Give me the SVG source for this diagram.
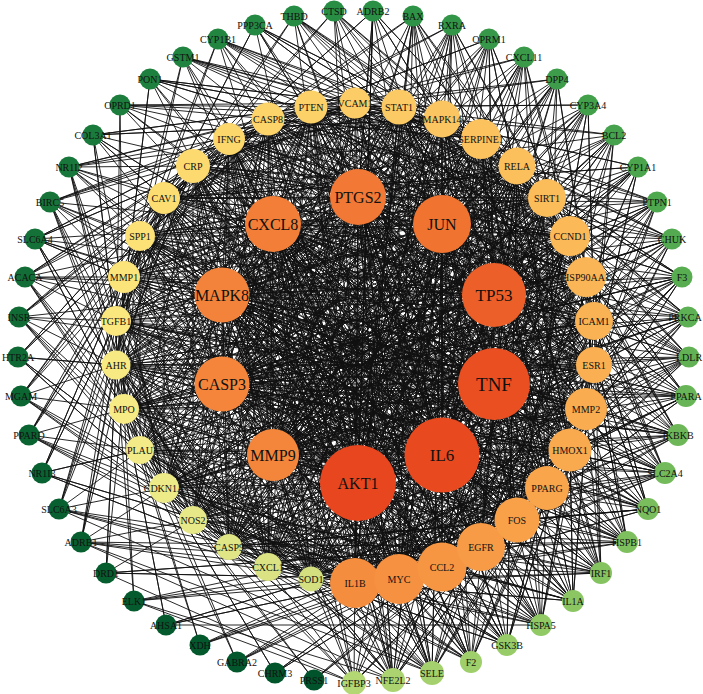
<svg xmlns="http://www.w3.org/2000/svg" width="703" height="694" viewBox="0 0 703 694">
<style>
.e path{fill:none;stroke:#111;stroke-width:0.9;stroke-linejoin:round}
.n text{font-family:"Liberation Serif","Times New Roman",serif;font-size:10px;text-anchor:middle;dominant-baseline:central;fill:#111}
.h text{font-size:16px}
</style>
<rect width="703" height="694" fill="#fff"/>
<g id="edges" class="e">
<path d="M355 103L358 197 399 107 442 224 442 119 494 295 481 139 494 384 517 166 442 455 547 198 358 483 570 236 273 455 586 277 222 384 594 321 222 295 594 365 273 224 586 409 358 197 570 450 442 224 547 488 494 295 517 520 494 384 481 547 442 455 442 567 358 483 399 579 273 455 355 583 222 384 311 579 222 295 268 567 273 224 229 547 358 197 193 520 442 224 164 488 494 295 140 450 494 384 124 409 442 455 116 365 358 483 116 321 273 455 124 277 222 384 140 236 222 295 164 198 273 224 193 166 358 197 229 139 442 224 268 119 494 295 311 107 494 384"/>
<path d="M355 103L494 295 399 107 494 384 442 119 442 455 481 139 358 483 517 166 273 455 547 198 222 384 570 236 222 295 586 277 273 224 594 321 358 197 594 365 442 224 586 409 494 295 570 450 494 384 547 488 442 455 517 520 358 483 481 547 273 455 442 567 222 384 399 579 222 295 355 583 273 224 311 579 358 197 268 567 442 224 229 547 494 295 193 520 494 384 164 488 442 455 140 450 358 483 124 409 273 455 116 365 222 384 116 321 222 295 124 277 273 224 140 236 358 197 164 198 442 224 193 166 494 295 229 139 494 384 268 119 442 455 311 107 358 483"/>
<path d="M355 103L442 455 399 107 358 483 442 119 273 455 481 139 222 384 517 166 222 295 547 198 273 224 570 236 358 197 586 277 442 224 594 321 494 295 594 365 494 384 586 409 442 455 570 450 358 483 547 488 273 455 517 520 222 384 481 547 222 295 442 567 273 224 399 579 358 197 355 583 442 224 311 579 494 295 268 567 494 384 229 547 442 455 193 520 358 483 164 488 273 455 140 450 222 384 124 409 222 295 116 365 273 224 116 321 358 197 124 277 442 224 140 236 494 295 164 198 494 384 193 166 442 455 229 139 358 483 268 119 273 455 311 107 222 384"/>
<path d="M355 103L273 455 399 107 222 384 442 119 222 295 481 139 273 224 517 166 358 197 547 198 442 224 570 236 494 295 586 277 494 384 594 321 442 455 594 365 358 483 586 409 273 455 570 450 222 384 547 488 222 295 517 520 273 224 481 547 358 197 442 567 442 224 399 579 494 295 355 583 494 384 311 579 442 455 268 567 358 483 229 547 273 455 193 520 222 384 164 488 222 295 140 450 273 224 124 409 358 197 116 365 442 224 116 321 494 295 124 277 494 384 140 236 442 455 164 198 358 483 193 166 273 455 229 139 222 384 268 119 222 295 311 107 273 224"/>
<path d="M355 103L222 295 399 107 273 224 442 119 358 197 481 139 442 224 517 166 494 295 547 198 494 384 570 236 442 455 586 277 358 483 594 321 273 455 594 365 222 384 586 409 222 295 570 450 273 224 547 488 358 197 517 520 442 224 481 547 494 295 442 567 494 384 399 579 442 455 355 583 358 483 311 579 273 455 268 567 222 384 229 547 222 295 193 520 273 224 164 488 358 197 140 450 442 224 124 409 494 295 116 365 494 384 116 321 442 455 124 277 358 483 140 236 273 455 164 198 222 384 193 166 222 295 229 139 273 224 268 119 358 197 311 107 442 224"/>
<path d="M358 197L442 224 494 295 494 384 442 455 358 483 273 455 222 384 222 295 273 224 358 197 494 295 442 455 273 455 222 295 358 197 494 384 273 455 273 224 494 295 358 483 222 295 442 224 442 455 222 384 358 197 442 455 222 295 494 295 273 455 358 197 358 483M442 224L494 384 358 483 222 384 273 224 442 224 358 483 273 224 494 384 222 384 442 224 273 455M494 295L222 384M494 384L222 295M442 455L273 224"/>
<path d="M355 103L481 139 570 236 594 365 547 488 442 567 311 579 193 520 124 409 124 277 193 166 311 107 442 119 547 198 594 321 570 450 481 547 355 583 229 547 140 450 116 321 164 198 268 119 399 107 517 166 586 277 586 409 517 520 399 579 268 567 164 488 116 365 140 236 229 139Z"/>
<path d="M355 103L547 198 586 409 442 567 229 547 116 365 193 166 399 107 570 236 570 450 399 579 193 520 116 321 229 139 442 119 586 277 547 488 355 583 164 488 124 277 268 119 481 139 594 321 517 520 311 579 140 450 140 236 311 107 517 166 594 365 481 547 268 567 124 409 164 198Z"/>
<path d="M355 103L586 277 481 547 193 520 140 236 399 107 594 321 442 567 164 488 164 198 442 119 594 365 399 579 140 450 193 166 481 139 586 409 355 583 124 409 229 139 517 166 570 450 311 579 116 365 268 119 547 198 547 488 268 567 116 321 311 107 570 236 517 520 229 547 124 277Z"/>
<path d="M355 103L594 365 311 579 124 277 442 119 570 450 229 547 164 198 517 166 517 520 164 488 229 139 570 236 442 567 124 409 311 107 594 321 355 583 116 321 399 107 586 409 268 567 140 236 481 139 547 488 193 520 193 166 547 198 481 547 140 450 268 119 586 277 399 579 116 365Z"/>
<path d="M355 103L570 450 164 488 311 107 586 409 193 520 268 119 594 365 229 547 229 139 594 321 268 567 193 166 586 277 311 579 164 198 570 236 355 583 140 236 547 198 399 579 124 277 517 166 442 567 116 321 481 139 481 547 116 365 442 119 517 520 124 409 399 107 547 488 140 450Z"/>
<path d="M355 103L517 520 116 321 547 198 311 579 229 139 586 409 140 450 442 119 442 567 140 236 586 277 229 547 311 107 547 488 116 365 517 166 355 583 193 166 594 365 164 488 399 107 481 547 124 277 570 236 268 567 268 119 570 450 124 409 481 139 399 579 164 198 594 321 193 520Z"/>
<path d="M355 103L442 567 193 166 570 450 116 321 586 277 164 488 481 139 311 579 311 107 481 547 164 198 586 409 116 365 570 236 193 520 442 119 355 583 268 119 517 520 140 236 594 365 124 409 547 198 229 547 399 107 399 579 229 139 547 488 124 277 594 321 140 450 517 166 268 567Z"/>
<path d="M355 103L355 583 399 107 311 579 442 119 268 567 481 139 229 547 517 166 193 520 547 198 164 488 570 236 140 450 586 277 124 409 594 321 116 365 594 365 116 321 586 409 124 277 570 450 140 236 547 488 164 198 517 520 193 166 481 547 229 139 442 567 268 119 399 579 311 107"/>
<path d="M355 103L586 409 229 547 193 166 570 236 399 579 116 321 442 119 547 488 164 488 268 119 594 321 311 579 140 236 517 166 481 547 124 409ZM399 107L570 450 193 520 229 139 586 277 355 583 124 277 481 139 517 520 140 450 311 107 594 365 268 567 164 198 547 198 442 567 116 365Z"/>
<path d="M355 103L547 488 124 409 442 119 481 547 116 321 517 166 399 579 140 236 570 236 311 579 193 166 594 321 229 547 268 119 586 409 164 488ZM399 107L517 520 116 365 481 139 442 567 124 277 547 198 355 583 164 198 586 277 268 567 229 139 594 365 193 520 311 107 570 450 140 450Z"/>
<path d="M355 103L481 547 140 236 594 321 164 488 442 119 399 579 193 166 586 409 124 409 517 166 311 579 268 119 547 488 116 321 570 236 229 547ZM399 107L442 567 164 198 594 365 140 450 481 139 355 583 229 139 570 450 116 365 547 198 268 567 311 107 517 520 124 277 586 277 193 520Z"/>
<path d="M355 103L399 579 268 119 481 547 193 166 547 488 140 236 586 409 116 321 594 321 124 409 570 236 164 488 517 166 229 547 442 119 311 579ZM399 107L355 583 311 107 442 567 229 139 517 520 164 198 570 450 124 277 594 365 116 365 586 277 140 450 547 198 193 520 481 139 268 567Z"/>
<path d="M373 11L517 166 413 16 547 198 452 25 570 236 489 39 570 236 524 57 586 277 557 79 594 321 588 105 594 321 614 135 594 365 638 167 594 365 657 202 586 409 672 239 570 450 682 277 570 450 688 317 547 488 689 357 517 520 686 396 517 520 678 435 481 547 665 473 442 567 648 509 442 567 627 542 399 579 601 573 355 583 573 601 355 583 541 625 311 579 507 645 311 579 471 662 268 567 432 673 229 547 393 680 229 547 354 683 193 520 314 680 164 488 275 673 164 488 237 662 140 450 200 645 124 409 166 625 124 409 134 601 116 365 106 573 116 365 81 542 116 321 59 509 124 277 42 473 124 277 29 435 140 236 21 396 164 198 18 357 164 198 19 317 193 166 25 277 229 139 35 239 229 139 50 202 268 119 69 167 311 107 93 135 311 107 120 105 355 103 150 79 355 103 183 57 399 107 218 39 442 119 255 25 442 119 294 16 481 139 334 11 517 166 373 11"/>
<path d="M373 11L164 198 413 16 193 166 452 25 229 139 489 39 229 139 524 57 268 119 557 79 311 107 588 105 311 107 614 135 355 103 638 167 355 103 657 202 399 107 672 239 442 119 682 277 442 119 688 317 481 139 689 357 517 166 686 396 517 166 678 435 547 198 665 473 570 236 648 509 570 236 627 542 586 277 601 573 594 321 573 601 594 321 541 625 594 365 507 645 594 365 471 662 586 409 432 673 570 450 393 680 570 450 354 683 547 488 314 680 517 520 275 673 517 520 237 662 481 547 200 645 442 567 166 625 442 567 134 601 399 579 106 573 399 579 81 542 355 583 59 509 311 579 42 473 311 579 29 435 268 567 21 396 229 547 18 357 229 547 19 317 193 520 25 277 164 488 35 239 164 488 50 202 140 450 69 167 124 409 93 135 124 409 120 105 116 365 150 79 116 365 183 57 116 321 218 39 124 277 255 25 124 277 294 16 140 236 334 11 164 198 373 11"/>
<path d="M19 317L222 295 25 277 273 224 35 239 222 295 50 202 273 224 69 167 222 295 93 135 358 197 120 105 273 224 150 79 358 197 183 57 273 224 218 39 358 197 255 25 358 197 294 16 442 224 334 11 358 197 373 11 358 197 413 16 442 224 452 25 358 197 489 39 494 295 524 57 442 224 557 79 494 295 588 105 442 224 614 135 494 295 638 167 494 295 657 202 494 384 672 239 494 295 682 277 494 384 688 317 494 295 689 357 442 455 686 396 494 384 678 435 442 455 665 473 494 384 648 509 442 455 627 542 494 384 601 573 358 483 573 601 442 455 541 625 358 483 507 645 442 455 471 662 358 483 432 673 358 483 393 680 273 455 354 683"/>
<path d="M120 105L547 198 150 79 547 198 183 57 570 236 218 39 586 277 255 25 586 277 294 16 594 321 334 11 594 365 373 11 594 365 413 16 586 409 452 25 570 450 489 39 570 450 524 57 547 488 557 79 517 520 588 105 517 520 614 135 481 547 638 167 481 547 657 202 442 567 672 239 399 579 682 277 399 579 688 317 355 583 689 357 311 579 686 396 311 579 678 435 268 567 665 473 229 547 648 509 229 547 627 542 193 520 601 573 164 488 573 601 164 488 541 625 140 450 507 645 140 450 471 662 124 409 432 673 116 365 393 680 116 365 354 683"/>
<path d="M373 11L494 384 413 16 222 384 452 25 494 384 489 39 222 295 524 57 442 455 557 79 222 295 588 105 442 455 614 135 222 295 638 167 358 483 657 202 273 224 672 239 358 483 682 277 273 224 688 317 358 483 689 357 358 197 686 396 273 455 678 435 358 197 665 473 273 455 648 509 358 197 627 542 273 455 601 573 442 224 573 601 222 384 541 625 442 224 507 645 222 384 471 662 442 224 432 673 222 295 393 680 494 295 354 683"/>
<path d="M614 135L164 198 638 167 164 198 657 202 193 166 672 239 229 139 682 277 229 139 688 317 268 119 689 357 311 107 686 396 311 107 678 435 355 103 665 473 399 107 648 509 399 107 627 542 442 119 601 573 481 139 573 601 481 139 541 625 517 166 507 645 517 166 471 662 547 198 432 673 570 236 393 680 570 236 354 683"/>
<path d="M682 277L594 365 688 317 586 409 689 357 570 450 686 396 570 450 678 435 547 488 665 473 517 520 648 509 517 520 627 542 481 547 601 573 442 567 573 601 442 567 541 625 399 579 507 645 399 579 471 662 355 583 432 673 311 579 393 680 311 579 354 683"/>
<path d="M657 202L517 166 672 239 547 198 682 277 547 198 688 317 570 236 689 357 586 277 686 396 586 277 678 435 594 321 665 473 594 365 648 509 594 365 627 542 586 409 601 573 570 450 573 601 570 450 541 625 547 488 507 645 547 488 471 662 517 520 432 673 481 547 393 680 481 547 354 683"/>
<path d="M678 435L222 384 665 473 273 224 648 509 222 384 627 542 273 224 601 573 222 295 573 601 358 197 541 625 222 295 507 645 358 197 471 662 222 295 432 673 442 224 393 680 273 224 354 683"/>
<path d="M373 11L358 483 413 16 358 483 452 25 358 483 489 39 273 455 524 57 273 455 557 79 273 455 588 105 273 455 614 135 273 455 638 167 222 384 657 202 222 384 672 239 222 384 682 277 222 384 688 317 222 384 689 357 222 295 686 396 222 295 678 435 222 295 665 473 222 295 648 509 222 295 627 542 222 295 601 573 273 224 573 601 273 224 541 625 273 224 507 645 273 224 471 662 273 224 432 673 358 197 393 680 358 197 354 683"/>
<path d="M373 11L442 455 413 16 273 455 452 25 442 455 489 39 222 384 524 57 358 483 557 79 222 384 588 105 358 483 614 135 222 384 638 167 273 455 657 202 222 295 672 239 273 455 682 277 222 295 688 317 273 455 689 357 273 224 686 396 222 384 678 435 273 224 665 473 222 384 648 509 273 224 627 542 222 384 601 573 358 197 573 601 222 295 541 625 358 197 507 645 222 295 471 662 358 197 432 673 273 224 393 680 442 224 354 683"/>
<path d="M19 317L494 384 25 277 494 295 35 239 494 384 50 202 442 455 69 167 494 384 93 135 494 384 120 105 442 455 150 79 358 483 183 57 442 455 218 39 494 384 255 25 358 483 294 16 442 455 334 11 358 483 373 11"/>
<path d="M373 11L355 583 413 16 399 579 452 25 268 567 489 39 355 583 524 57 229 547 557 79 268 567 588 105 193 520 614 135 229 547 638 167 164 488 657 202 193 520 672 239 124 409 682 277 164 488 688 317 116 365 689 357 124 409 686 396 116 321 678 435 116 365 665 473 140 236 648 509 116 321 627 542 164 198 601 573 140 236 573 601 193 166 541 625 164 198 507 645 229 139 471 662 193 166 432 673 311 107 393 680 229 139 354 683"/>
<path d="M106 573L140 236 81 542 164 198 59 509 193 166 42 473 193 166 29 435 229 139 21 396 268 119 18 357 268 119 19 317 311 107 25 277 355 103 35 239 355 103 50 202 399 107 69 167 442 119 93 135 442 119 120 105 481 139 150 79 481 139 183 57 517 166 218 39 547 198 255 25 547 198 294 16 570 236 334 11"/>
<path d="M314 680L570 450 275 673 570 450 237 662 547 488 200 645 517 520 166 625 517 520 134 601 481 547 106 573 481 547 81 542 442 567 59 509 399 579 42 473 399 579 29 435 355 583 21 396 311 579 18 357 311 579 19 317 268 567 25 277 229 547 35 239 229 547 50 202 193 520 69 167 164 488 93 135"/>
<path d="M166 625L541 625M106 573L354 683 134 601 393 680 81 542 432 673 59 509"/>
<path d="M106 573L193 520 81 542 164 488 59 509 140 450 42 473 140 450 29 435 124 409 21 396 116 365 18 357 116 365 19 317 116 321 25 277 124 277 35 239 124 277 50 202 140 236 69 167 164 198 93 135 164 198M69 167L193 166"/>
</g>
<g id="nodes">
<g id="ADRB2" class="n"><circle cx="373" cy="11" r="10.5" fill="#2a9045"/><text x="373" y="11">ADRB2</text></g>
<g id="BAX" class="n"><circle cx="413" cy="16" r="10.5" fill="#2e9346"/><text x="413" y="16">BAX</text></g>
<g id="RXRA" class="n"><circle cx="452" cy="25" r="10.5" fill="#329547"/><text x="452" y="25">RXRA</text></g>
<g id="OPRM1" class="n"><circle cx="489" cy="39" r="10.5" fill="#369848"/><text x="489" y="39">OPRM1</text></g>
<g id="CXCL11" class="n"><circle cx="524" cy="57" r="10.5" fill="#3a9a49"/><text x="524" y="57">CXCL11</text></g>
<g id="DPP4" class="n"><circle cx="557" cy="79" r="10.5" fill="#3e9d4a"/><text x="557" y="79">DPP4</text></g>
<g id="CYP3A4" class="n"><circle cx="588" cy="105" r="10.5" fill="#42a04b"/><text x="588" y="105">CYP3A4</text></g>
<g id="BCL2" class="n"><circle cx="614" cy="135" r="10.5" fill="#46a24c"/><text x="614" y="135">BCL2</text></g>
<g id="CYP1A1" class="n"><circle cx="638" cy="167" r="10.5" fill="#4aa54d"/><text x="638" y="167">CYP1A1</text></g>
<g id="PTPN1" class="n"><circle cx="657" cy="202" r="10.5" fill="#4ea84e"/><text x="657" y="202">PTPN1</text></g>
<g id="CHUK" class="n"><circle cx="672" cy="239" r="10.5" fill="#53aa50"/><text x="672" y="239">CHUK</text></g>
<g id="F3" class="n"><circle cx="682" cy="277" r="10.5" fill="#58ad51"/><text x="682" y="277">F3</text></g>
<g id="PRKCA" class="n"><circle cx="688" cy="317" r="10.5" fill="#5db053"/><text x="685" y="317">PRKCA</text></g>
<g id="LDLR" class="n"><circle cx="689" cy="357" r="10.5" fill="#62b255"/><text x="689" y="357">LDLR</text></g>
<g id="PPARA" class="n"><circle cx="686" cy="396" r="11" fill="#67b556"/><text x="686" y="396">PPARA</text></g>
<g id="IKBKB" class="n"><circle cx="678" cy="435" r="11" fill="#6db758"/><text x="678" y="435">IKBKB</text></g>
<g id="SLC2A4" class="n"><circle cx="665" cy="473" r="11" fill="#73ba5a"/><text x="665" y="473">SLC2A4</text></g>
<g id="NQO1" class="n"><circle cx="648" cy="509" r="11" fill="#79bd5c"/><text x="648" y="509">NQO1</text></g>
<g id="HSPB1" class="n"><circle cx="627" cy="542" r="11" fill="#7fc05e"/><text x="627" y="542">HSPB1</text></g>
<g id="IRF1" class="n"><circle cx="601" cy="573" r="11" fill="#85c360"/><text x="601" y="573">IRF1</text></g>
<g id="IL1A" class="n"><circle cx="573" cy="601" r="11" fill="#8bc663"/><text x="573" y="601">IL1A</text></g>
<g id="HSPA5" class="n"><circle cx="541" cy="625" r="11" fill="#91c965"/><text x="541" y="625">HSPA5</text></g>
<g id="GSK3B" class="n"><circle cx="507" cy="645" r="11" fill="#97cc68"/><text x="507" y="645">GSK3B</text></g>
<g id="F2" class="n"><circle cx="471" cy="662" r="11" fill="#9ecf6a"/><text x="471" y="662">F2</text></g>
<g id="SELE" class="n"><circle cx="432" cy="673" r="12" fill="#a4d16d"/><text x="432" y="673">SELE</text></g>
<g id="NFE2L2" class="n"><circle cx="393" cy="680" r="12" fill="#abd470"/><text x="393" y="680">NFE2L2</text></g>
<g id="IGFBP3" class="n"><circle cx="354" cy="683" r="12" fill="#b2d773"/><text x="354" y="683">IGFBP3</text></g>
<g id="PRSS1" class="n"><circle cx="314" cy="680" r="10.5" fill="#00532a"/><text x="314" y="680">PRSS1</text></g>
<g id="CHRM3" class="n"><circle cx="275" cy="673" r="10.5" fill="#01552b"/><text x="275" y="673">CHRM3</text></g>
<g id="GABRA2" class="n"><circle cx="237" cy="662" r="10.5" fill="#02572c"/><text x="237" y="662">GABRA2</text></g>
<g id="XDH" class="n"><circle cx="200" cy="645" r="10.5" fill="#03582c"/><text x="200" y="645">XDH</text></g>
<g id="AHSA1" class="n"><circle cx="166" cy="625" r="10.5" fill="#045a2d"/><text x="166" y="625">AHSA1</text></g>
<g id="ELK1" class="n"><circle cx="134" cy="601" r="10.5" fill="#055b2e"/><text x="134" y="601">ELK1</text></g>
<g id="DRD1" class="n"><circle cx="106" cy="573" r="10.5" fill="#065d2e"/><text x="106" y="573">DRD1</text></g>
<g id="ADRB1" class="n"><circle cx="81" cy="542" r="10.5" fill="#075f2f"/><text x="81" y="542">ADRB1</text></g>
<g id="SLC6A3" class="n"><circle cx="59" cy="509" r="10.5" fill="#086030"/><text x="59" y="509">SLC6A3</text></g>
<g id="NR1I3" class="n"><circle cx="42" cy="473" r="10.5" fill="#096231"/><text x="42" y="473">NR1I3</text></g>
<g id="PPARD" class="n"><circle cx="29" cy="435" r="10.5" fill="#0a6431"/><text x="29" y="435">PPARD</text></g>
<g id="MGAM" class="n"><circle cx="21" cy="396" r="10.5" fill="#0c6632"/><text x="21" y="396">MGAM</text></g>
<g id="HTR2A" class="n"><circle cx="18" cy="357" r="10.5" fill="#0e6934"/><text x="18" y="357">HTR2A</text></g>
<g id="INSR" class="n"><circle cx="19" cy="317" r="10.5" fill="#106b35"/><text x="19" y="317">INSR</text></g>
<g id="ACACA" class="n"><circle cx="25" cy="277" r="10.5" fill="#126e36"/><text x="25" y="277">ACACA</text></g>
<g id="SLC6A4" class="n"><circle cx="35" cy="239" r="10.5" fill="#147137"/><text x="35" y="239">SLC6A4</text></g>
<g id="BIRC5" class="n"><circle cx="50" cy="202" r="10.5" fill="#167439"/><text x="50" y="202">BIRC5</text></g>
<g id="NR1I2" class="n"><circle cx="69" cy="167" r="10.5" fill="#18773a"/><text x="69" y="167">NR1I2</text></g>
<g id="COL3A1" class="n"><circle cx="93" cy="135" r="10.5" fill="#1a7a3b"/><text x="93" y="135">COL3A1</text></g>
<g id="OPRD1" class="n"><circle cx="120" cy="105" r="10.5" fill="#1c7d3d"/><text x="120" y="105">OPRD1</text></g>
<g id="PON1" class="n"><circle cx="150" cy="79" r="10.5" fill="#1e803e"/><text x="150" y="79">PON1</text></g>
<g id="GSTM1" class="n"><circle cx="183" cy="57" r="10.5" fill="#20833f"/><text x="183" y="57">GSTM1</text></g>
<g id="CYP1B1" class="n"><circle cx="218" cy="39" r="10.5" fill="#228641"/><text x="218" y="39">CYP1B1</text></g>
<g id="PPP3CA" class="n"><circle cx="255" cy="25" r="10.5" fill="#248942"/><text x="255" y="25">PPP3CA</text></g>
<g id="THBD" class="n"><circle cx="294" cy="16" r="10.5" fill="#268b43"/><text x="294" y="16">THBD</text></g>
<g id="CTSD" class="n"><circle cx="334" cy="11" r="10.5" fill="#288e44"/><text x="334" y="11">CTSD</text></g>
<g id="SOD1" class="n"><circle cx="311" cy="579" r="12.5" fill="#d4df7f"/><text x="311" y="579">SOD1</text></g>
<g id="CXCL1" class="n"><circle cx="268" cy="567" r="14" fill="#dae283"/><text x="268" y="567">CXCL1</text></g>
<g id="CASP9" class="n"><circle cx="229" cy="547" r="13" fill="#e0e586"/><text x="229" y="547">CASP9</text></g>
<g id="NOS2" class="n"><circle cx="193" cy="520" r="14" fill="#e7e888"/><text x="193" y="520">NOS2</text></g>
<g id="CDKN1A" class="n"><circle cx="164" cy="488" r="15" fill="#edea88"/><text x="164" y="488">CDKN1A</text></g>
<g id="PLAU" class="n"><circle cx="140" cy="450" r="14" fill="#f2eb87"/><text x="140" y="450">PLAU</text></g>
<g id="MPO" class="n"><circle cx="124" cy="409" r="15" fill="#f6eb85"/><text x="124" y="409">MPO</text></g>
<g id="AHR" class="n"><circle cx="116" cy="365" r="14.5" fill="#f8ea82"/><text x="116" y="365">AHR</text></g>
<g id="TGFB1" class="n"><circle cx="116" cy="321" r="15" fill="#fae77e"/><text x="116" y="321">TGFB1</text></g>
<g id="MMP1" class="n"><circle cx="124" cy="277" r="16" fill="#fbe47a"/><text x="124" y="277">MMP1</text></g>
<g id="SPP1" class="n"><circle cx="140" cy="236" r="15" fill="#fce176"/><text x="140" y="236">SPP1</text></g>
<g id="CAV1" class="n"><circle cx="164" cy="198" r="16" fill="#fcdd72"/><text x="164" y="198">CAV1</text></g>
<g id="CRP" class="n"><circle cx="193" cy="166" r="17" fill="#fcda6f"/><text x="193" y="166">CRP</text></g>
<g id="IFNG" class="n"><circle cx="229" cy="139" r="16" fill="#fcd76c"/><text x="229" y="139">IFNG</text></g>
<g id="CASP8" class="n"><circle cx="268" cy="119" r="16.5" fill="#fcd46a"/><text x="268" y="119">CASP8</text></g>
<g id="PTEN" class="n"><circle cx="311" cy="107" r="16.5" fill="#fcd168"/><text x="311" y="107">PTEN</text></g>
<g id="VCAM1" class="n"><circle cx="355" cy="103" r="15.5" fill="#fccd66"/><text x="355" y="103">VCAM1</text></g>
<g id="STAT1" class="n"><circle cx="399" cy="107" r="17.5" fill="#fcca64"/><text x="399" y="107">STAT1</text></g>
<g id="MAPK14" class="n"><circle cx="442" cy="119" r="18.5" fill="#fbc661"/><text x="442" y="119">MAPK14</text></g>
<g id="SERPINE1" class="n"><circle cx="481" cy="139" r="20" fill="#fbc25e"/><text x="481" y="139">SERPINE1</text></g>
<g id="RELA" class="n"><circle cx="517" cy="166" r="18.5" fill="#fbbf5c"/><text x="517" y="166">RELA</text></g>
<g id="SIRT1" class="n"><circle cx="547" cy="198" r="19" fill="#fbbc5a"/><text x="547" y="198">SIRT1</text></g>
<g id="CCND1" class="n"><circle cx="570" cy="236" r="20" fill="#fbb958"/><text x="570" y="236">CCND1</text></g>
<g id="HSP90AA1" class="n"><circle cx="586" cy="277" r="20" fill="#fab656"/><text x="586" y="277">HSP90AA1</text></g>
<g id="ICAM1" class="n"><circle cx="594" cy="321" r="19" fill="#fab354"/><text x="594" y="321">ICAM1</text></g>
<g id="ESR1" class="n"><circle cx="594" cy="365" r="18" fill="#fab052"/><text x="594" y="365">ESR1</text></g>
<g id="MMP2" class="n"><circle cx="586" cy="409" r="21" fill="#f9ad50"/><text x="586" y="409">MMP2</text></g>
<g id="IL1B" class="n"><circle cx="355" cy="583" r="25" fill="#f58d3f"/><text x="355" y="583">IL1B</text></g>
<g id="MYC" class="n"><circle cx="399" cy="579" r="25" fill="#f69141"/><text x="399" y="579">MYC</text></g>
<g id="CCL2" class="n"><circle cx="442" cy="567" r="24.5" fill="#f69643"/><text x="442" y="567">CCL2</text></g>
<g id="EGFR" class="n"><circle cx="481" cy="547" r="24" fill="#f79b46"/><text x="481" y="547">EGFR</text></g>
<g id="FOS" class="n"><circle cx="517" cy="520" r="22.5" fill="#f8a149"/><text x="517" y="520">FOS</text></g>
<g id="PPARG" class="n"><circle cx="547" cy="488" r="22" fill="#f8a54b"/><text x="547" y="488">PPARG</text></g>
<g id="HMOX1" class="n"><circle cx="570" cy="450" r="21.5" fill="#f9a94e"/><text x="570" y="450">HMOX1</text></g>
<g id="PTGS2" class="n h"><circle cx="358" cy="197" r="28" fill="#f17935"/><text x="358" y="197">PTGS2</text></g>
<g id="JUN" class="n h"><circle cx="442" cy="224" r="29" fill="#f07330"/><text x="442" y="224">JUN</text></g>
<g id="TP53" class="n h"><circle cx="494" cy="295" r="32" fill="#ed5f28"/><text x="494" y="295" style="font-size:17px">TP53</text></g>
<g id="TNF" class="n h"><circle cx="494" cy="384" r="36" fill="#ea4f21"/><text x="494" y="384" style="font-size:19px">TNF</text></g>
<g id="IL6" class="n h"><circle cx="442" cy="455" r="37.5" fill="#e9491f"/><text x="442" y="455" style="font-size:17px">IL6</text></g>
<g id="AKT1" class="n h"><circle cx="358" cy="483" r="38" fill="#e8461e"/><text x="358" y="483">AKT1</text></g>
<g id="MMP9" class="n h"><circle cx="273" cy="455" r="26" fill="#f4863b"/><text x="273" y="455">MMP9</text></g>
<g id="CASP3" class="n h"><circle cx="222" cy="384" r="27.5" fill="#f4853b"/><text x="222" y="384">CASP3</text></g>
<g id="MAPK8" class="n h"><circle cx="222" cy="295" r="27.5" fill="#f3833a"/><text x="222" y="295">MAPK8</text></g>
<g id="CXCL8" class="n h"><circle cx="273" cy="224" r="28" fill="#f27e37"/><text x="273" y="224">CXCL8</text></g>
</g>
</svg>
